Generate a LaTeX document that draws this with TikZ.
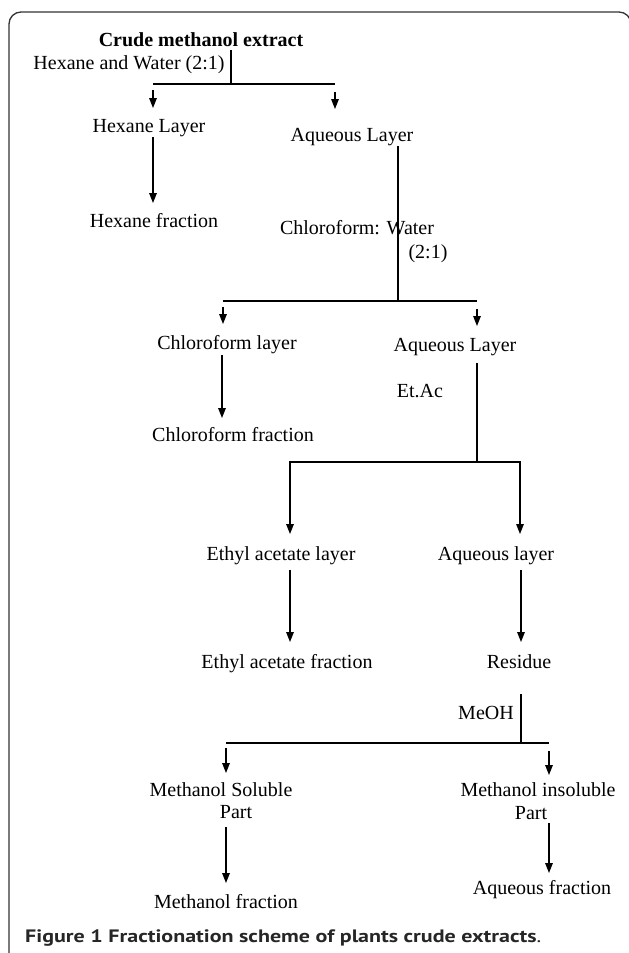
\documentclass[tikz,border=0pt]{standalone}
\usepackage{fontspec}
\setmainfont{Liberation Serif}
\newfontfamily\capfont{PT Sans}
\usetikzlibrary{arrows.meta}
\tikzset{
  txt/.style={inner sep=0pt, anchor=base, font=\fontsize{20}{22}\selectfont},
  btxt/.style={inner sep=0pt, anchor=base, font=\fontsize{20}{22}\selectfont\bfseries},
  ln/.style={line width=1.4pt, black},
  arr/.style={line width=1.4pt, black, -{Triangle[length=10pt,width=7.5pt]}},
  framestyle/.style={line width=1.3pt, black!80, rounded corners=12pt},
  captxt/.style={anchor=base west, inner sep=0pt, font=\capfont\fontsize{19}{22}\selectfont\bfseries, text=black!85},
}
\begin{document}
\begin{tikzpicture}[x=1pt,y=-1pt]
\useasboundingbox (0,0) rectangle (629,953);
% frame
\coordinate (fbl) at (9,960);
\coordinate (ftl) at (9,12);
\coordinate (ftr) at (631,12);
\coordinate (fbr) at (631,960);
\draw[framestyle] (fbl) -- (ftl) -- (ftr) -- (fbr);

% texts
\node[btxt] (crude) at (201,46) {Crude methanol extract};
\node[txt] (hw) at (129,69) {Hexane and Water (2:1)};
\node[txt] (hexl) at (149,132) {Hexane Layer};
\node[txt] (aq1) at (352,141) {Aqueous Layer};
\node[txt] (hexf) at (154,227) {Hexane fraction};
\node[txt] (cw) at (357,234) {Chloroform: Water};
\node[txt] (r21) at (428,258) {(2:1)};
\node[txt] (chl) at (227,349) {Chloroform layer};
\node[txt] (aq2) at (455,351) {Aqueous Layer};
\node[txt] (chf) at (233,441) {Chloroform fraction};
\node[txt] (etac) at (420,397) {Et.Ac};
\node[txt] (eal) at (281,560) {Ethyl acetate layer};
\node[txt] (aq3) at (496,560) {Aqueous layer};
\node[txt] (eaf) at (287,668) {Ethyl acetate fraction};
\node[txt] (res) at (519,668) {Residue};
\node[txt] (meoh) at (486,719) {MeOH};
\node[txt] (msol) at (221,796) {Methanol Soluble};
\node[txt] (msolp) at (236,818) {Part};
\node[txt] (mins) at (538,796) {Methanol insoluble};
\node[txt] (minsp) at (531,819) {Part};
\node[txt] (mf) at (226,908) {Methanol fraction};
\node[txt] (af) at (542,894) {Aqueous fraction};
\node[captxt] (cap) at (25,942) {\resizebox{516pt}{12.8pt}{Figure 1 Fractionation scheme of plants crude extracts{\mdseries .}}};

% split 1
\coordinate (v1a) at (231,50);
\coordinate (v1b) at (231,84);
\coordinate (h1l) at (153,84);
\coordinate (h1r) at (335,84);
\coordinate (a1ls) at (153,90);
\coordinate (a1le) at (153,108);
\coordinate (a1rs) at (335,92);
\coordinate (a1re) at (335,109);
\draw[ln] (v1a) -- (v1b);
\draw[ln] (h1l) -- (h1r);
\draw[arr] (a1ls) -- (a1le);
\draw[arr] (a1rs) -- (a1re);

% hexane
\coordinate (hxs) at (153,137);
\coordinate (hxe) at (153,203);
\draw[arr] (hxs) -- (hxe);

% split 2
\coordinate (v2a) at (398,146);
\coordinate (v2b) at (398,301);
\coordinate (h2l) at (223,301);
\coordinate (h2r) at (477,301);
\coordinate (a2ls) at (223,307);
\coordinate (a2le) at (223,324);
\coordinate (a2rs) at (477,309);
\coordinate (a2re) at (477,326);
\draw[ln] (v2a) -- (v2b);
\draw[ln] (h2l) -- (h2r);
\draw[arr] (a2ls) -- (a2le);
\draw[arr] (a2rs) -- (a2re);

% chloroform
\coordinate (chs) at (222,355);
\coordinate (che) at (222,418);
\draw[arr] (chs) -- (che);

% split 3
\coordinate (v3a) at (477,363);
\coordinate (v3b) at (477,462);
\coordinate (a3le) at (290,534);
\coordinate (a3re) at (520,534);
\draw[ln] (v3a) -- (v3b);
\draw[arr] (v3b) -| (a3le);
\draw[arr] (v3b) -| (a3re);

% ethyl acetate / aqueous
\coordinate (eas) at (290,570);
\coordinate (eae) at (290,642);
\coordinate (aqs) at (521,570);
\coordinate (aqe) at (521,642);
\draw[arr] (eas) -- (eae);
\draw[arr] (aqs) -- (aqe);

% split 4
\coordinate (v4a) at (521,694);
\coordinate (v4b) at (521,743);
\coordinate (h4l) at (226,743);
\coordinate (h4r) at (549,743);
\coordinate (a4ls) at (226,748);
\coordinate (a4le) at (226,773);
\coordinate (a4rs) at (549,751);
\coordinate (a4re) at (549,775);
\draw[ln] (v4a) -- (v4b);
\draw[ln] (h4l) -- (h4r);
\draw[arr] (a4ls) -- (a4le);
\draw[arr] (a4rs) -- (a4re);

% methanol parts
\coordinate (msa) at (226,827);
\coordinate (msb) at (226,883);
\coordinate (mia) at (549,823);
\coordinate (mib) at (549,873);
\draw[arr] (msa) -- (msb);
\draw[arr] (mia) -- (mib);
\end{tikzpicture}
\end{document}
